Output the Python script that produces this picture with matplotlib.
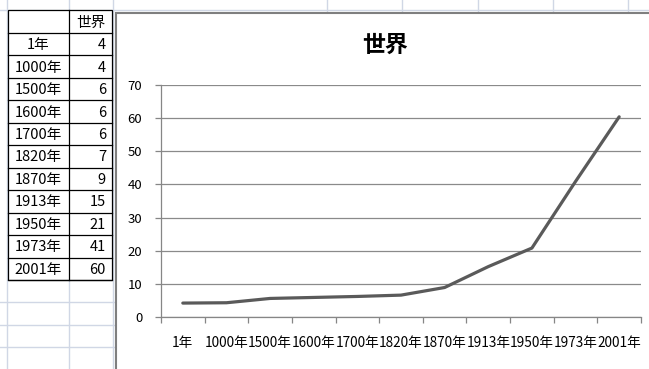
import numpy as np
import matplotlib.pyplot as plt
from matplotlib.patches import Rectangle

plt.rcParams['font.family'] = ['Noto Sans CJK JP', 'DejaVu Sans']

periods = ['1年', '1000年', '1500年', '1600年', '1700年', '1820年',
           '1870年', '1913年', '1950年', '1973年', '2001年']
world = [4.2, 4.3, 5.6, 5.9, 6.2, 6.6, 8.9, 15.2, 20.8, 40.9, 60.4]
series_name = '世界'
y_ticks = [0, 10, 20, 30, 40, 50, 60, 70]

W, H = 649, 369
fig = plt.figure(figsize=(W / 100, H / 100), dpi=100)

# worksheet layer, pixel coordinates
sheet = fig.add_axes([0, 0, 1, 1])
sheet.set_xlim(0, W)
sheet.set_ylim(H, 0)
sheet.axis('off')

grid_c = '#d0d7e5'
for x in [7, 69, 113]:
    sheet.plot([x, x], [0, H], color=grid_c, lw=1)
for x in [327, 402, 478, 553, 628]:
    sheet.plot([x, x], [0, 13], color=grid_c, lw=1)
sheet.plot([0, W], [10, 10], color=grid_c, lw=1)

# data table
t_left, t_mid, t_right = 8, 69, 112
t_top, head_bot = 10, 33
row_h = 22.45
t_bot = head_bot + row_h * len(periods)
for y in np.arange(t_bot + row_h, H, row_h):
    sheet.plot([0, 116], [y, y], color=grid_c, lw=1)

sheet.add_patch(Rectangle((t_left, t_top), t_right - t_left, t_bot - t_top,
                          fc='white', ec='black', lw=0.9, zorder=2))
sheet.plot([t_mid, t_mid], [t_top, t_bot], color='black', lw=0.9, zorder=2)
for i in range(len(periods) + 1):
    y = head_bot + i * row_h
    sheet.plot([t_left, t_right], [y, y], color='black', lw=0.9, zorder=2)

sheet.text(91, (t_top + head_bot) / 2 + 1, series_name, ha='center',
           va='center', fontsize=10.5, zorder=3)
for i, (p, v) in enumerate(zip(periods, world)):
    yc = head_bot + (i + 0.5) * row_h + 1
    sheet.text((t_left + t_mid) / 2, yc, p, ha='center', va='center',
               fontsize=10.5, zorder=3)
    sheet.text(106, yc, f'{v:.0f}', ha='right', va='center',
               fontsize=10.5, zorder=3)

# chart frame and title
sheet.add_patch(Rectangle((116, 13), 600, 400, fc='white', ec='#7f7f7f',
                          lw=1.5, zorder=4))
sheet.text(385, 45, series_name, ha='center', va='center', fontsize=16.5,
           fontweight='bold', zorder=5)

ax = fig.add_axes([161 / W, 1 - 317 / H, (641 - 161) / W, (317 - 85) / H])
ax.set_facecolor('none')
x = np.arange(len(periods))
ax.plot(x, world, color='#5a5a5a', lw=2.3, solid_joinstyle='round',
        solid_capstyle='round', zorder=3)

ax.set_xlim(-0.5, len(periods) - 0.5)
ax.set_ylim(0, 70)
ax.set_yticks(y_ticks)
ax.yaxis.grid(True, color='#8a8a8a', lw=0.9)
ax.set_axisbelow(True)

for s in ['top', 'right']:
    ax.spines[s].set_visible(False)
for s in ['left', 'bottom']:
    ax.spines[s].set_color('#868686')
    ax.spines[s].set_linewidth(0.9)

ax.tick_params(axis='y', length=4.5, width=0.9, color='#868686',
               labelsize=9.5, pad=9)
ax.set_xticks(x)
ax.set_xticklabels(periods)
ax.tick_params(axis='x', which='major', length=0, labelsize=9.8, pad=14)
ax.set_xticks(np.arange(-0.5, len(periods)), minor=True)
ax.tick_params(axis='x', which='minor', length=4.5, width=0.9,
               color='#868686', direction='out')

fig.savefig('out.png', dpi=100)
